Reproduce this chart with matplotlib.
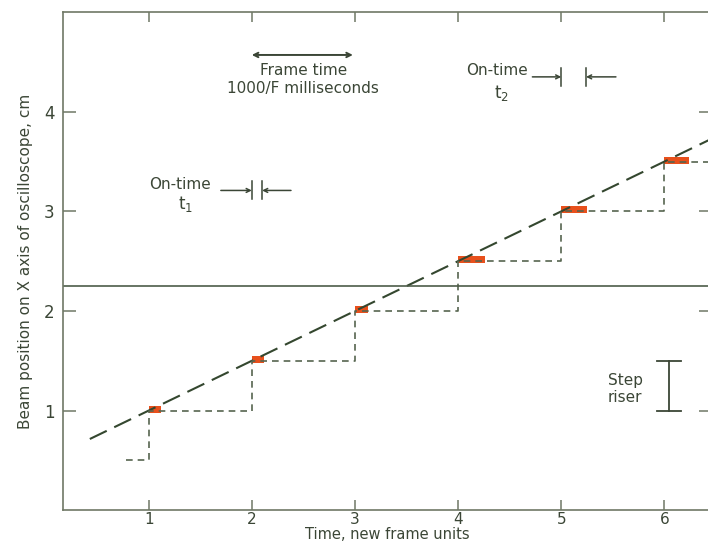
import matplotlib.pyplot as plt

# staircase of beam position (steps of 0.5 cm per frame)
step_x = [0.78, 1, 2, 3, 4, 5, 6, 6.45]
step_y = [0.5, 1.0, 1.5, 2.0, 2.5, 3.0, 3.5, 3.5]

# on-time marks at each step (start, width)
frames = [1, 2, 3, 4, 5, 6]
levels = [1.0, 1.5, 2.0, 2.5, 3.0, 3.5]
on_time = [0.12, 0.12, 0.13, 0.26, 0.25, 0.24]

# ideal ramp y = 0.5 x + 0.5
ramp_x = [0.43, 6.45]
ramp_y = [0.5 * v + 0.5 for v in ramp_x]

ref_level = 2.25

ink = '#3b4636'
spine_c = '#6f7866'
red = '#e8501c'

plt.rcParams['font.family'] = ['DejaVu Sans']

fig = plt.figure(figsize=(7.08, 5.51), dpi=100)
ax = fig.add_axes([0.089, 0.074, 0.915, 0.904])

ax.set_xlim(0.17, 6.45)
ax.set_ylim(0, 5.0)

ax.plot(ramp_x, ramp_y, color='#34472f', lw=1.5, dashes=(9, 4))
ax.plot(step_x, step_y, drawstyle='steps-post', color='#56654f', lw=1.2,
        dashes=(4, 3))
ax.axhline(ref_level, color='#4d5c49', lw=1.2)

for f, lv, w in zip(frames, levels, on_time):
    ax.fill_between([f, f + w], lv - 0.02, lv + 0.05, color=red, lw=0)

# frame time arrow
ax.annotate('', xy=(2.0, 4.57), xytext=(2.98, 4.57),
            arrowprops=dict(arrowstyle='<->', color=ink, lw=1.4,
                            shrinkA=0, shrinkB=0, mutation_scale=8))
ax.text(2.5, 4.41, 'Frame time', ha='center', va='center', fontsize=11, color=ink)
ax.text(2.5, 4.23, '1000/F milliseconds', ha='center', va='center', fontsize=11,
        color=ink)

def on_time_mark(x0, x1, y, xl, xr, half):
    ax.plot([x0, x0], [y - half, y + half], color=ink, lw=1.1)
    ax.plot([x1, x1], [y - half, y + half], color=ink, lw=1.1)
    ax.annotate('', xy=(x0, y), xytext=(xl, y),
                arrowprops=dict(arrowstyle='->', color=ink, lw=1.1,
                                shrinkA=0, shrinkB=0, mutation_scale=7))
    ax.annotate('', xy=(x1, y), xytext=(xr, y),
                arrowprops=dict(arrowstyle='->', color=ink, lw=1.1,
                                shrinkA=0, shrinkB=0, mutation_scale=7))

on_time_mark(5.0, 5.24, 4.35, 4.72, 5.53, 0.09)
ax.text(4.38, 4.41, 'On-time', ha='center', va='center', fontsize=11, color=ink)
ax.text(4.42, 4.19, r'$\mathregular{t_2}$', ha='center', va='center', fontsize=12,
        color=ink)

on_time_mark(2.0, 2.1, 3.21, 1.70, 2.38, 0.09)
ax.text(1.30, 3.27, 'On-time', ha='center', va='center', fontsize=11, color=ink)
ax.text(1.36, 3.07, r'$\mathregular{t_1}$', ha='center', va='center', fontsize=12,
        color=ink)

# step riser
ax.plot([6.04, 6.04], [1.0, 1.5], color=ink, lw=1.3)
ax.plot([5.93, 6.16], [1.5, 1.5], color=ink, lw=1.3)
ax.plot([5.93, 6.16], [1.0, 1.0], color=ink, lw=1.3)
ax.text(5.62, 1.30, 'Step', ha='center', va='center', fontsize=11, color=ink)
ax.text(5.62, 1.13, 'riser', ha='center', va='center', fontsize=11, color=ink)

ax.set_xticks(frames)
ax.set_yticks([1, 2, 3, 4])
ax.tick_params(direction='in', length=9, width=1.1, color=spine_c,
               labelsize=12, labelcolor=ink, top=True, right=True, pad=6)
ax.tick_params(axis='x', length=7, pad=1, labelsize=11)
for s in ax.spines.values():
    s.set_color(spine_c)
    s.set_linewidth(1.2)

ax.set_xlabel('Time, new frame units', fontsize=10.5, color=ink, labelpad=0)
ax.set_ylabel('Beam position on X axis of oscilloscope, cm', fontsize=11,
              color=ink, labelpad=8)

fig.savefig('out.png', dpi=100)
